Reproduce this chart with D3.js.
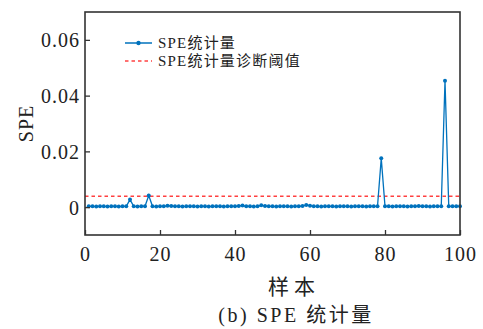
<!DOCTYPE html>
<html><head><meta charset="utf-8">
<script src="https://cdn.jsdelivr.net/npm/d3@7"></script>
<style>body{margin:0;background:#fff}svg{display:block}</style>
</head><body>
<svg id="c" width="483" height="329"></svg>
<script>
const samples = d3.range(1, 101);
const speValues = [
0.0003,0.0003,0.0002,0.0003,0.0003,0.0002,0.0003,0.0003,0.0002,0.0003,
0.0003,0.0027,0.0003,0.0002,0.0003,0.0003,0.0042,0.0003,0.0002,0.0003,
0.0003,0.0005,0.0004,0.0003,0.0003,0.0002,0.0003,0.0003,0.0003,0.0002,
0.0003,0.0003,0.0002,0.0003,0.0003,0.0003,0.0002,0.0003,0.0003,0.0003,
0.0004,0.0006,0.0003,0.0003,0.0002,0.0003,0.0007,0.0004,0.0003,0.0003,
0.0002,0.0003,0.0003,0.0003,0.0002,0.0003,0.0003,0.0004,0.0008,0.0005,
0.0003,0.0003,0.0002,0.0003,0.0003,0.0003,0.0002,0.0003,0.0003,0.0003,
0.0002,0.0003,0.0003,0.0003,0.0002,0.0003,0.0003,0.0003,0.0175,0.0003,
0.0003,0.0002,0.0003,0.0003,0.0003,0.0002,0.0003,0.0003,0.0004,0.0003,
0.0003,0.0002,0.0003,0.0003,0.0003,0.0453,0.0003,0.0003,0.0003,0.0003
];
const threshold = 0.0039;
const xTicks = [0,20,40,60,80,100];
const yTicks = [0,0.02,0.04,0.06];
const yTickLabels = ["0","0.02","0.04","0.06"];
const legendLabels = ["SPE统计量","SPE统计量诊断阈值"];
const xLabel = "样本", yLabel = "SPE", caption = "(b)  SPE 统计量";

const svg = d3.select("#c");
const L=85,R=460,T=12,B=235;
const x = d3.scaleLinear().domain([0,100]).range([L,R]);
const y = d3.scaleLinear().domain([-0.01,0.07]).range([B,T]);
const serif = "'Liberation Serif','Times New Roman',serif";
const cjk = "'Liberation Serif','Noto Sans CJK SC',serif";
const blue = "#0072BD", frame="#333";

// threshold
svg.append("line").attr("x1",x(0)).attr("x2",x(100)).attr("y1",y(threshold)).attr("y2",y(threshold))
  .attr("stroke","#ff0000").attr("stroke-opacity",0.75).attr("stroke-width",1.3).attr("stroke-dasharray","3.5,3");

const data = samples.map((s,i)=>({s, v:speValues[i]}));
svg.append("path").datum(data).attr("fill","none").attr("stroke",blue).attr("stroke-width",1.3)
  .attr("d", d3.line().x(d=>x(d.s)).y(d=>y(d.v)));
svg.append("g").selectAll("circle").data(data).join("circle")
  .attr("cx",d=>x(d.s)).attr("cy",d=>y(d.v)).attr("r",2).attr("fill",blue);

// frame
svg.append("rect").attr("x",L).attr("y",T).attr("width",R-L).attr("height",B-T)
  .attr("fill","none").attr("stroke",frame).attr("stroke-width",1.6);

const xa = svg.append("g").attr("transform",`translate(0,${B})`)
  .call(d3.axisBottom(x).tickValues(xTicks).tickSizeInner(-5).tickSizeOuter(0).tickPadding(12));
const ya = svg.append("g").attr("transform",`translate(${L},0)`)
  .call(d3.axisLeft(y).tickValues(yTicks).tickFormat((d,i)=>yTickLabels[i]).tickSizeInner(-5).tickSizeOuter(0).tickPadding(5));
[xa,ya].forEach(a=>{
  a.select(".domain").remove();
  a.selectAll(".tick line").attr("stroke",frame).attr("stroke-width",1.3);
  a.selectAll("text").attr("font-family",serif).attr("font-size",20).attr("letter-spacing",1).attr("fill","#222");
});
xa.selectAll("text").attr("dy","0.71em");
ya.selectAll("text").attr("dy","0.35em");

svg.append("text").attr("transform",`translate(33,${(T+B)/2}) rotate(-90)`).attr("text-anchor","middle")
  .attr("font-family",serif).attr("font-size",20).attr("letter-spacing",1).attr("fill","#222").text(yLabel);
svg.append("text").attr("x",294).attr("y",294).attr("text-anchor","middle")
  .attr("font-family",cjk).attr("font-size",21).attr("letter-spacing",5).attr("fill","#222").text(xLabel);
svg.append("text").attr("x",296).attr("y",322).attr("text-anchor","middle")
  .attr("font-family",cjk).attr("font-size",20).attr("letter-spacing",2.5).attr("fill","#222").text(caption);

// legend
const lg = svg.append("g");
lg.append("line").attr("x1",125).attr("x2",152).attr("y1",43).attr("y2",43).attr("stroke",blue).attr("stroke-width",1.5);
lg.append("circle").attr("cx",138.5).attr("cy",43).attr("r",2.2).attr("fill",blue);
lg.append("line").attr("x1",125).attr("x2",152).attr("y1",61).attr("y2",61).attr("stroke","#ff0000").attr("stroke-opacity",0.75)
  .attr("stroke-width",1.3).attr("stroke-dasharray","3.5,3");
legendLabels.forEach((t,i)=>lg.append("text").attr("x",158).attr("y",43+18*i).attr("dy","0.35em")
  .attr("font-family",cjk).attr("font-size",15).attr("letter-spacing",1.2).attr("fill","#222").text(t));
</script>
</body></html>
